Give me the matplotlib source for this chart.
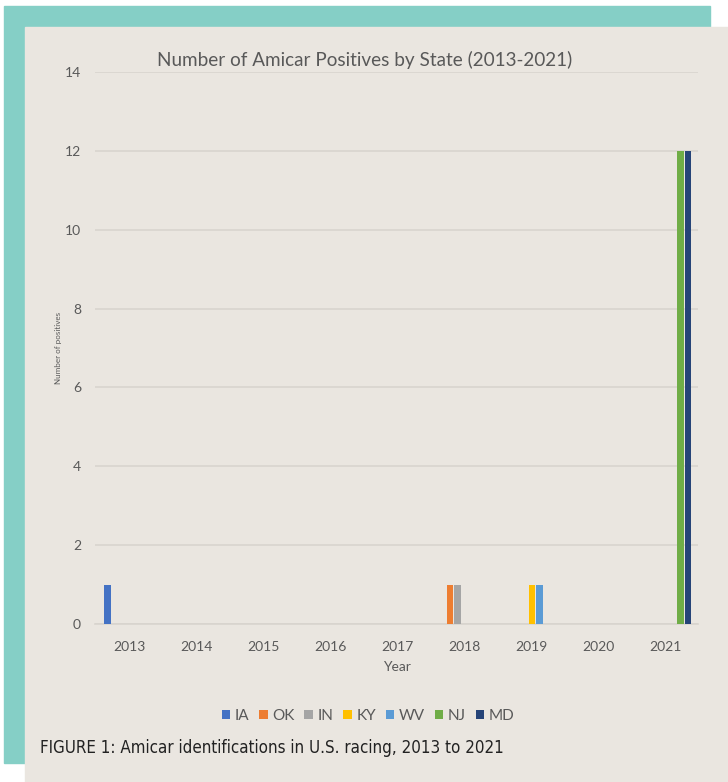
import matplotlib
matplotlib.use("Agg")
import matplotlib.pyplot as plt
from matplotlib.patches import Rectangle
import numpy as np

years = ["2013", "2014", "2015", "2016", "2017", "2018", "2019", "2020", "2021"]
states = ["IA", "OK", "IN", "KY", "WV", "NJ", "MD"]
IA = [1, 0, 0, 0, 0, 0, 0, 0, 0]
OK = [0, 0, 0, 0, 0, 1, 0, 0, 0]
IN = [0, 0, 0, 0, 0, 1, 0, 0, 0]
KY = [0, 0, 0, 0, 0, 0, 1, 0, 0]
WV = [0, 0, 0, 0, 0, 0, 1, 0, 0]
NJ = [0, 0, 0, 0, 0, 0, 0, 0, 12]
MD = [0, 0, 0, 0, 0, 0, 0, 0, 12]
series = [IA, OK, IN, KY, WV, NJ, MD]
colors = ["#4472C4", "#ED7D31", "#A5A5A5", "#FFC000", "#5B9BD5", "#70AD47", "#264478"]
yticks = [0, 2, 4, 6, 8, 10, 12, 14]

W, H = 728, 782
fig = plt.figure(figsize=(W / 100, H / 100), dpi=100)
fig.patch.set_facecolor("white")
# teal frame and beige panel
fig.patches.append(Rectangle((4 / W, 1 - 763 / H), (710 - 4) / W, (763 - 6) / H,
                             transform=fig.transFigure, color="#85CFC6", zorder=-20))
fig.patches.append(Rectangle((25 / W, 0), (728 - 25) / W, (782 - 27) / H,
                             transform=fig.transFigure, color="#EAE6E0", zorder=-10))

ax = fig.add_axes([95 / W, 1 - 624 / H, (698 - 95) / W, (624 - 72) / H])
ax.set_facecolor("none")
x = np.arange(len(years))
bw = 0.11
for i, (vals, c, s) in enumerate(zip(series, colors, states)):
    ax.bar(x + (i - 3) * bw, vals, width=bw * 0.9, color=c, label=s, zorder=3)

ax.set_xlim(-0.52, 8.48)
ax.set_ylim(0, 14)
ax.set_yticks(yticks)
ax.set_xticks(x)
ax.set_xticklabels(years)
ax.grid(axis="y", color="#D8D4CE", linewidth=1.2, zorder=0)
for sp in ["top", "right", "left"]:
    ax.spines[sp].set_visible(False)
ax.spines["bottom"].set_color("#D8D4CE")
ax.spines["bottom"].set_linewidth(1.2)
ax.tick_params(axis="both", length=0, labelsize=10, labelcolor="#595959")
ax.tick_params(axis="y", pad=10)
ax.tick_params(axis="x", pad=12)
for lab in ax.get_xticklabels() + ax.get_yticklabels():
    lab.set_fontfamily("Lato")
ax.set_xlabel("Year", fontsize=10, color="#595959", family="Lato", labelpad=6)
ax.set_ylabel("Number of positives", fontsize=5.8, color="#595959", family="Lato", labelpad=2)

fig.text(365 / W, 1 - 60 / H, "Number of Amicar Positives by State (2013-2021)",
         ha="center", va="center", fontsize=13.6, color="#595959", family="Lato")

handles, labels = ax.get_legend_handles_labels()
leg = fig.legend(handles, labels, loc="center", bbox_to_anchor=(368 / W, 1 - 716 / H),
                 ncol=7, frameon=False, handlelength=0.55, handleheight=0.55,
                 handletextpad=0.3, columnspacing=0.65,
                 prop={"family": "Lato", "size": 11})
for t in leg.get_texts():
    t.set_color("#595959")

fig.text(40 / W, 1 - 748 / H, "FIGURE 1: Amicar identifications in U.S. racing, 2013 to 2021",
         ha="left", va="center", fontsize=12.2, color="#222222",
         family="DejaVu Sans", fontstretch="condensed")

fig.savefig("out.png", dpi=100)
